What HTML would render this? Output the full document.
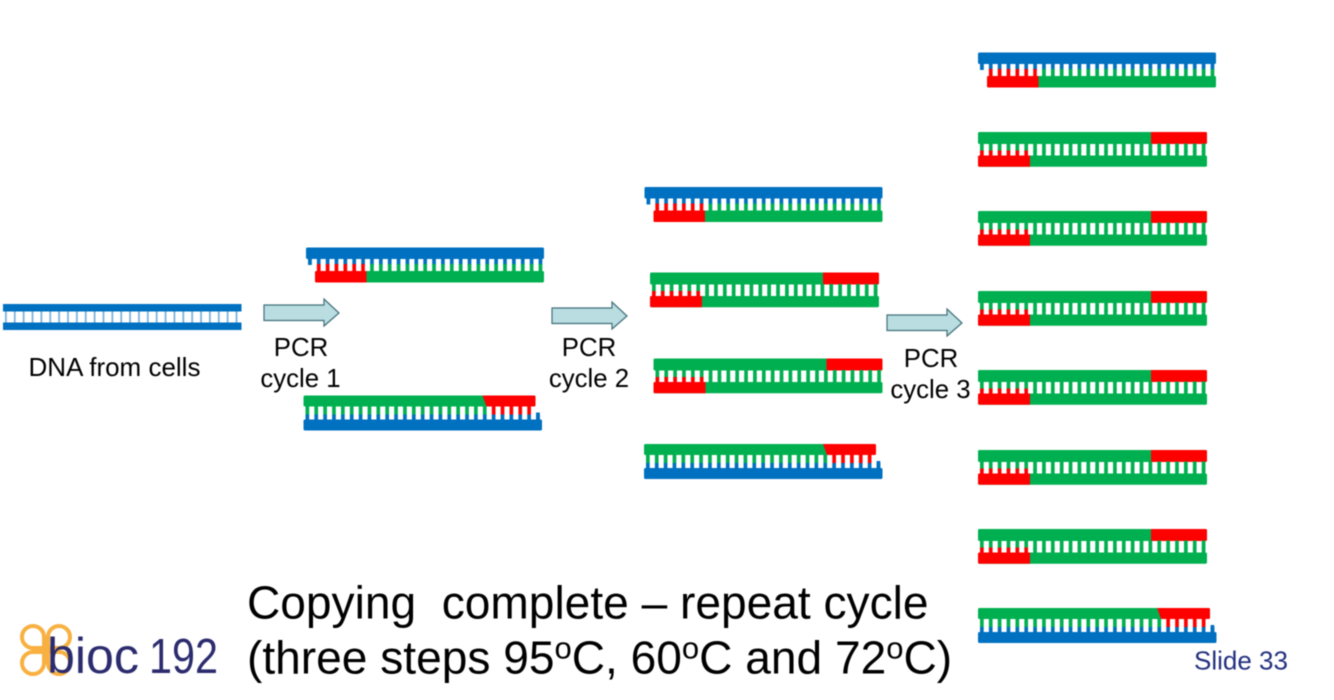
<!DOCTYPE html>
<html><head><meta charset="utf-8"><style>
html,body{margin:0;padding:0;background:#fff;width:1334px;height:700px;overflow:hidden}
svg{display:block;filter:blur(.4px)}
text{font-family:"Liberation Sans",sans-serif;fill:#000;white-space:pre}
.l{font-size:25.8px;text-anchor:middle}
.t{font-size:46.1px}
.s{font-size:31px}
</style></head><body>
<svg width="1334" height="700" viewBox="0 0 1334 700" xmlns="http://www.w3.org/2000/svg">
<defs>
<g id="A">
<rect x="0" y="0" width="238" height="11.500" rx="1.500" fill="#0070c0"/>
<line x1="2" x2="238" y1="14" y2="14" stroke="#0070c0" stroke-width="7" stroke-dasharray="3.700 5.170"/>
<rect x="2" y="10" width="3.700" height="7.500" fill="#0070c0"/>
<line x1="10.870" x2="58.800" y1="20" y2="20" stroke="#ff0000" stroke-width="7" stroke-dasharray="3.700 5.170"/>
<line x1="64.100" x2="238" y1="20" y2="20" stroke="#00b050" stroke-width="7" stroke-dasharray="3.700 5.170"/>
<rect x="9" y="23.500" width="229" height="11.500" rx="1.500" fill="#00b050"/>
<path d="M10.500 23.500H60.500V35H10.500a1.500 1.500 0 0 1-1.500-1.500V25a1.500 1.500 0 0 1 1.500-1.500Z" fill="#ff0000"/>
</g>
<g id="B">
<rect x="0" y="0" width="229" height="12" rx="1.500" fill="#00b050"/>
<path d="M173 0H227.500a1.500 1.500 0 0 1 1.500 1.500V10.500a1.500 1.500 0 0 1-1.500 1.500H173Z" fill="#ff0000"/>
<line x1="2" x2="229" y1="16" y2="16" stroke="#00b050" stroke-width="9" stroke-dasharray="3.700 5.170"/>
<line x1="2" x2="50" y1="21" y2="21" stroke="#ff0000" stroke-width="5" stroke-dasharray="3.700 5.170"/>
<line x1="55.200" x2="229" y1="21" y2="21" stroke="#00b050" stroke-width="5" stroke-dasharray="3.700 5.170"/>
<rect x="0" y="23.500" width="229" height="11.300" rx="1.500" fill="#00b050"/>
<path d="M1.500 23.500H52V34.800H1.500a1.500 1.500 0 0 1-1.500-1.500V25a1.500 1.500 0 0 1 1.500-1.500Z" fill="#ff0000"/>
</g>
<g id="C">
<rect x="0" y="0" width="232" height="11" rx="1.500" fill="#00b050"/>
<path d="M179 0H230.500a1.500 1.500 0 0 1 1.500 1.500V9.500a1.500 1.500 0 0 1-1.500 1.500H183Z" fill="#ff0000"/>
<line x1="2" x2="186" y1="15" y2="15" stroke="#00b050" stroke-width="9" stroke-dasharray="3.700 5.170"/>
<line x1="188.300" x2="232" y1="15" y2="15" stroke="#ff0000" stroke-width="9" stroke-dasharray="3.700 5.170"/>
<line x1="2" x2="238" y1="21.500" y2="21.500" stroke="#0070c0" stroke-width="5" stroke-dasharray="3.700 5.170"/>
<rect x="232.600" y="17" width="3.700" height="8" fill="#0070c0"/>
<rect x="0" y="24" width="238.500" height="11" rx="1.500" fill="#0070c0"/>
</g>
<path id="ar" d="M0 6H60V0L75 14L60 27V21.500H0Z" fill="#b9dde1" stroke="#41707a" stroke-width="1.200"/>
</defs>

<!-- original DNA -->
<line x1="5" x2="241" y1="317" y2="317" stroke="#7db3dd" stroke-width="13" stroke-dasharray="1.800 7.070"/>
<rect x="3" y="304" width="238.500" height="7.500" fill="#0070c0"/>
<rect x="3" y="322.500" width="238.500" height="7.500" fill="#0070c0"/>
<text class="l" x="114.500" y="376" style="font-size:26px">DNA from cells</text>

<!-- arrows -->
<use href="#ar" x="264" y="299"/>
<use href="#ar" x="552" y="302"/>
<use href="#ar" x="887" y="309"/>
<text class="l" x="301" y="356">PCR</text><text class="l" x="300.500" y="387">cycle 1</text>
<text class="l" x="589" y="356">PCR</text><text class="l" x="589" y="387">cycle 2</text>
<text class="l" x="931" y="367">PCR</text><text class="l" x="930.500" y="398">cycle 3</text>

<!-- cycle 1 -->
<use href="#A" x="306" y="247.500"/>
<use href="#C" x="303.500" y="395.500"/>
<!-- cycle 2 -->
<use href="#A" x="644.500" y="187"/>
<use href="#B" x="650" y="272.500"/>
<use href="#B" x="653.500" y="358.500"/>
<use href="#C" x="644" y="444"/>
<!-- cycle 3 -->
<use href="#A" x="978" y="52.500"/>
<use href="#B" x="978" y="132"/>
<use href="#B" x="978" y="211"/>
<use href="#B" x="978" y="291"/>
<use href="#B" x="978" y="370"/>
<use href="#B" x="978" y="450"/>
<use href="#B" x="978" y="529"/>
<use href="#C" x="978" y="608"/>

<!-- caption -->
<text class="t" x="247" y="618.500">Copying  complete – repeat cycle</text>
<text class="t" x="247" y="673.500">(three steps 95<tspan class="s" dy="-15">o</tspan><tspan dy="15">C, 60</tspan><tspan class="s" dy="-15">o</tspan><tspan dy="15">C and 72</tspan><tspan class="s" dy="-15">o</tspan><tspan dy="15">C)</tspan></text>
<text x="1194" y="669.500" style="font-size:26px;fill:#23307f">Slide 33</text>

<!-- logo -->
<g fill="none" stroke="#f8b040" stroke-width="4">
<path d="M44 648H33a11 11 0 1 1 11-11Z"/>
<path d="M48 648V637a11 11 0 1 1 11 11Z"/>
<path d="M44 652V663a11 11 0 1 1-11-11Z"/>
<path d="M48 652H59a11 11 0 1 1-11 11Z"/>
</g>
<text x="47" y="673" textLength="92" lengthAdjust="spacingAndGlyphs" style="font-size:50px;fill:#2b2b6e">bioc</text>
<text x="149" y="673" textLength="69" lengthAdjust="spacingAndGlyphs" style="font-size:49px;fill:#2b2b6e">192</text>
</svg>
</body></html>
